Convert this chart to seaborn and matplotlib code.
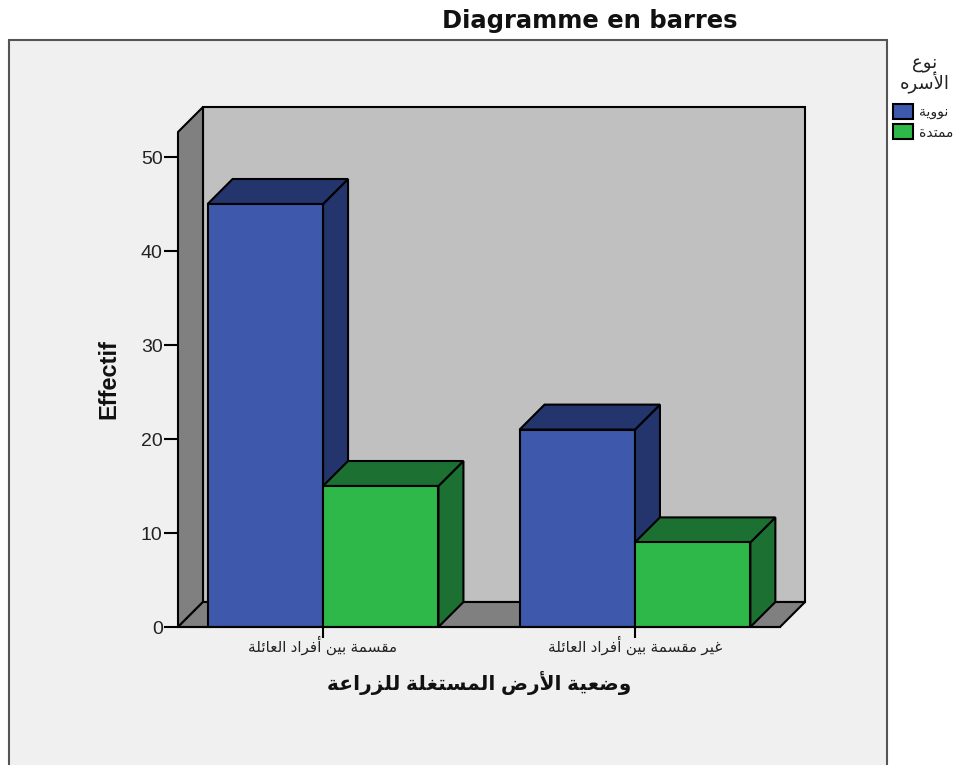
import matplotlib
matplotlib.use('Agg')
import matplotlib.pyplot as plt
from matplotlib.patches import Polygon, Rectangle
import pandas as pd
import seaborn as sns

land_status = ['مقسمة بين أفراد العائلة', 'غير مقسمة بين أفراد العائلة']
family_types = ['نووية', 'ممتدة']
counts_nuclear = [45, 21]
counts_extended = [15, 9]
y_ticks = [0, 10, 20, 30, 40, 50]

title = 'Diagramme en barres'
x_title = 'وضعية الأرض المستغلة للزراعة'
y_title = 'Effectif'
legend_title = ['نوع', 'الأسره']

front_colors = ['#3E58AC', '#2EB84A']
dark_colors = ['#24356D', '#1C7031']

# matplotlib does no arabic shaping, so map letters to presentation forms
# (isolated, final, initial, medial)
FORMS = {
    'ا': (0xFE8D, 0xFE8E), 'أ': (0xFE83, 0xFE84), 'د': (0xFEA9, 0xFEAA),
    'ر': (0xFEAD, 0xFEAE), 'ز': (0xFEAF, 0xFEB0), 'و': (0xFEED, 0xFEEE),
    'ة': (0xFE93, 0xFE94),
    'ئ': (0xFE89, 0xFE8A, 0xFE8B, 0xFE8C), 'ب': (0xFE8F, 0xFE90, 0xFE91, 0xFE92),
    'ت': (0xFE95, 0xFE96, 0xFE97, 0xFE98), 'س': (0xFEB1, 0xFEB2, 0xFEB3, 0xFEB4),
    'ض': (0xFEBD, 0xFEBE, 0xFEBF, 0xFEC0), 'ع': (0xFEC9, 0xFECA, 0xFECB, 0xFECC),
    'غ': (0xFECD, 0xFECE, 0xFECF, 0xFED0), 'ف': (0xFED1, 0xFED2, 0xFED3, 0xFED4),
    'ق': (0xFED5, 0xFED6, 0xFED7, 0xFED8), 'ل': (0xFEDD, 0xFEDE, 0xFEDF, 0xFEE0),
    'م': (0xFEE1, 0xFEE2, 0xFEE3, 0xFEE4), 'ن': (0xFEE5, 0xFEE6, 0xFEE7, 0xFEE8),
    'ه': (0xFEE9, 0xFEEA, 0xFEEB, 0xFEEC), 'ي': (0xFEF1, 0xFEF2, 0xFEF3, 0xFEF4),
}
LAM_ALEF = {'ا': (0xFEFB, 0xFEFC), 'أ': (0xFEF7, 0xFEF8)}


def shape(text):
    out = []
    i = 0
    joins = False
    while i < len(text):
        c = text[i]
        if c not in FORMS:
            out.append(c)
            joins = False
            i += 1
            continue
        if c == 'ل' and i + 1 < len(text) and text[i + 1] in LAM_ALEF:
            out.append(chr(LAM_ALEF[text[i + 1]][1 if joins else 0]))
            joins = False
            i += 2
            continue
        forms = FORMS[c]
        next_joins = len(forms) == 4 and i + 1 < len(text) and text[i + 1] in FORMS
        if len(forms) == 4 and next_joins:
            out.append(chr(forms[3] if joins else forms[2]))
        else:
            out.append(chr(forms[1] if joins else forms[0]))
        joins = next_joins
        i += 1
    return ''.join(out)[::-1]


sns.set_style('white')
plt.rcParams['font.family'] = ['Liberation Sans', 'DejaVu Sans']

df = pd.DataFrame({
    'status': [shape(s) for s in land_status] * 2,
    'family': [shape(family_types[0])] * 2 + [shape(family_types[1])] * 2,
    'count': counts_nuclear + counts_extended,
})

fig = plt.figure(figsize=(9.55, 7.65), dpi=100, facecolor='white')
fig.add_artist(Rectangle((9 / 955, -0.01), 878 / 955, 725 / 765 + 0.01, transform=fig.transFigure,
                         facecolor='#F0F0F0', edgecolor='#555555', linewidth=1.5, zorder=-1))

ax = fig.add_axes([178 / 955, 138 / 765, 602 / 955, 495 / 765])
ax.patch.set_visible(False)
sns.barplot(data=df, x='status', y='count', hue='family', palette=front_colors, width=0.74, gap=0,
            saturation=1, edgecolor='black', linewidth=1.5, ax=ax)
x0, x1 = -0.465, 1.465
y1 = 52.66
ax.set_xlim(x0, x1)
ax.set_ylim(0, y1)

# depth of the fake 3d box, 25 px each way
dx = 25 / 312
dy = 25 / 9.4


def face(points, color, z):
    ax.add_patch(Polygon(points, closed=True, facecolor=color, edgecolor='black', linewidth=1.5,
                         clip_on=False, zorder=z))


face([(x0 + dx, dy), (x1 + dx, dy), (x1 + dx, y1 + dy), (x0 + dx, y1 + dy)], '#C0C0C0', 0.5)
face([(x0, 0), (x0 + dx, dy), (x0 + dx, y1 + dy), (x0, y1)], '#808080', 0.6)
face([(x0, 0), (x1, 0), (x1 + dx, dy), (x0 + dx, dy)], '#808080', 0.6)

for i, container in enumerate(ax.containers):
    for bar in container:
        bar.set_zorder(3)
        left = bar.get_x()
        right = left + bar.get_width()
        h = bar.get_height()
        face([(right, 0), (right + dx, dy), (right + dx, h + dy), (right, h)], dark_colors[i], 1 + i * 0.1)
        face([(left, h), (right, h), (right + dx, h + dy), (left + dx, h + dy)], dark_colors[i], 1 + i * 0.1)

ax.set_yticks(y_ticks)
ax.tick_params(axis='y', length=10, width=1.5, color='black', labelsize=14, pad=1, labelcolor='#222222', left=True)
ax.tick_params(axis='x', length=8, width=1.5, color='black', labelsize=11, pad=-1.5, labelcolor='#222222', bottom=True)
sns.despine(ax=ax, top=True, right=True)
ax.spines['left'].set_visible(False)
ax.spines['bottom'].set_linewidth(1.5)
ax.spines['bottom'].set_color('black')
ax.spines['bottom'].set_zorder(4)

ax.set_xlabel(shape(x_title), fontsize=14.5, fontweight='bold', color='#111111')
ax.xaxis.set_label_coords(0.5, -0.088)
ax.set_ylabel(y_title, fontsize=17, fontweight='bold', color='#111111')
ax.yaxis.set_label_coords(-0.096, 0.5)

fig.text(590 / 955, 744 / 765, title, fontsize=17.5, fontweight='bold', color='#111111',
         family=['DejaVu Sans'], ha='center', va='center')

handles, labels = ax.get_legend_handles_labels()
ax.get_legend().remove()
fig.text(925 / 955, 690 / 765, '\n'.join(shape(s) for s in legend_title), fontsize=13, color='#222222',
         ha='center', va='center', linespacing=0.9)
fig.legend(handles, labels, loc='upper left', bbox_to_anchor=(893 / 955, 661 / 765), frameon=False,
           fontsize=10, handlelength=1.45, handleheight=1.3, handletextpad=0.4, labelspacing=0.35,
           borderpad=0, borderaxespad=0, labelcolor='#222222')

plt.savefig('out.png', dpi=100)
plt.close()
